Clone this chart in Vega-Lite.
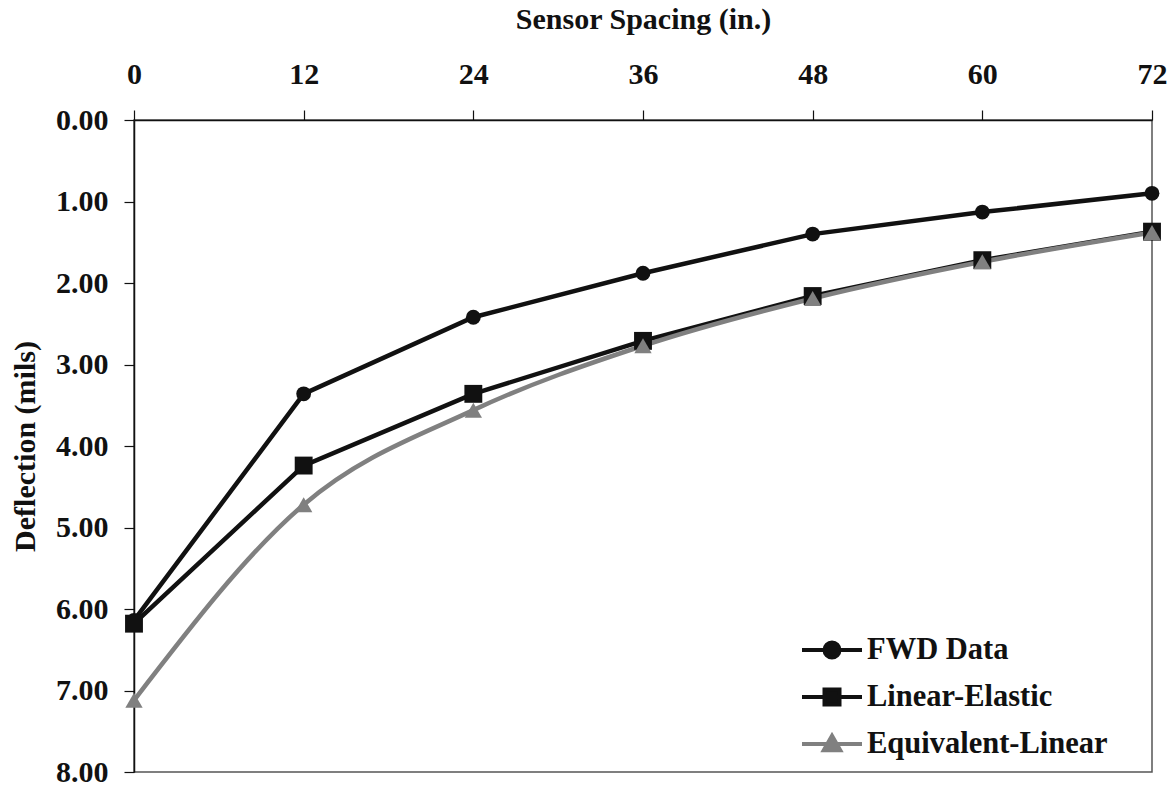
{
  "$schema": "https://vega.github.io/schema/vega-lite/v6.json",
  "autosize": {"type": "none"},
  "padding": {"left": 134, "top": 120, "right": 23, "bottom": 14},
  "width": 1018,
  "height": 652,
  "background": "white",
  "config": {
    "font": "Liberation Serif",
    "view": {"stroke": "#555", "strokeWidth": 1.5},
    "axis": {
      "labelFont": "Liberation Serif", "labelFontWeight": "bold", "labelFontSize": 30, "labelColor": "#111",
      "titleFont": "Liberation Serif", "titleFontWeight": "bold", "titleFontSize": 30, "titleColor": "#111",
      "domainColor": "#111", "domainWidth": 1.5, "tickColor": "#111", "tickWidth": 1.2, "tickSize": 10, "grid": false
    },
    "legend": {
      "labelFont": "Liberation Serif", "labelFontWeight": "bold", "labelFontSize": 30.5, "labelColor": "#111", "labelLimit": 600
    }
  },
  "data": {"values": [
    {"series": "FWD Data", "spacing": 0, "deflection": 6.14},
    {"series": "FWD Data", "spacing": 12, "deflection": 3.36},
    {"series": "FWD Data", "spacing": 24, "deflection": 2.42},
    {"series": "FWD Data", "spacing": 36, "deflection": 1.88},
    {"series": "FWD Data", "spacing": 48, "deflection": 1.40},
    {"series": "FWD Data", "spacing": 60, "deflection": 1.13},
    {"series": "FWD Data", "spacing": 72, "deflection": 0.90},
    {"series": "Linear-Elastic", "spacing": 0, "deflection": 6.18},
    {"series": "Linear-Elastic", "spacing": 12, "deflection": 4.24},
    {"series": "Linear-Elastic", "spacing": 24, "deflection": 3.36},
    {"series": "Linear-Elastic", "spacing": 36, "deflection": 2.71},
    {"series": "Linear-Elastic", "spacing": 48, "deflection": 2.16},
    {"series": "Linear-Elastic", "spacing": 60, "deflection": 1.72},
    {"series": "Linear-Elastic", "spacing": 72, "deflection": 1.37},
    {"series": "Equivalent-Linear", "spacing": 0, "deflection": 7.12},
    {"series": "Equivalent-Linear", "spacing": 12, "deflection": 4.72},
    {"series": "Equivalent-Linear", "spacing": 24, "deflection": 3.56},
    {"series": "Equivalent-Linear", "spacing": 36, "deflection": 2.77},
    {"series": "Equivalent-Linear", "spacing": 48, "deflection": 2.19},
    {"series": "Equivalent-Linear", "spacing": 60, "deflection": 1.74},
    {"series": "Equivalent-Linear", "spacing": 72, "deflection": 1.38}
  ]},
  "encoding": {
    "x": {
      "field": "spacing", "type": "quantitative",
      "scale": {"domain": [0, 72], "nice": false, "zero": false},
      "axis": {"orient": "top", "title": "Sensor Spacing (in.)", "values": [0, 12, 24, 36, 48, 60, 72], "labelPadding": 21, "titlePadding": 25, "labelFlush": false}
    },
    "y": {
      "field": "deflection", "type": "quantitative",
      "scale": {"domain": [0, 8], "reverse": true, "nice": false},
      "axis": {"title": "Deflection (mils)", "values": [0, 1, 2, 3, 4, 5, 6, 7, 8], "format": ".2f", "labelPadding": 16, "titlePadding": 15}
    },
    "color": {
      "field": "series", "type": "nominal",
      "scale": {"domain": ["FWD Data", "Linear-Elastic", "Equivalent-Linear"], "range": ["#111111", "#111111", "#808080"]},
      "legend": {
        "title": null, "orient": "none", "legendX": 681, "legendY": 513, "padding": 0,
        "symbolSize": 900, "symbolStrokeWidth": 4, "labelOffset": 18, "rowPadding": 14,
        "encode": {
          "symbols": {"update": {
            "shape": {"signal": "datum.value === 'FWD Data' ? 'M-2,0H2M-0.5,0A0.5,0.5 0 1,1 0.5,0A0.5,0.5 0 1,1 -0.5,0Z' : datum.value === 'Linear-Elastic' ? 'M-2,0H2M-0.5,-0.5H0.5V0.5H-0.5Z' : 'M-2,0H2M0,-0.55L0.55,0.42H-0.55Z'"},
            "fill": {"signal": "datum.value === 'Equivalent-Linear' ? '#808080' : '#111111'"},
            "stroke": {"signal": "datum.value === 'Equivalent-Linear' ? '#808080' : '#111111'"},
            "strokeWidth": {"value": 4},
            "opacity": {"value": 1}
          }}
        }
      }
    }
  },
  "layer": [
    {
      "transform": [{"filter": "datum.series !== 'Equivalent-Linear'"}],
      "mark": {"type": "line", "strokeWidth": 4.5}
    },
    {
      "transform": [{"filter": "datum.series === 'Equivalent-Linear'"}],
      "mark": {"type": "line", "strokeWidth": 4.5, "interpolate": "monotone"}
    },
    {
      "transform": [{"filter": "datum.series === 'FWD Data'"}],
      "mark": {"type": "point", "shape": "circle", "filled": true, "size": 220, "opacity": 1}
    },
    {
      "transform": [{"filter": "datum.series === 'Linear-Elastic'"}],
      "mark": {"type": "point", "shape": "square", "filled": true, "size": 320, "opacity": 1}
    },
    {
      "transform": [{"filter": "datum.series === 'Equivalent-Linear'"}],
      "mark": {"type": "point", "shape": "triangle-up", "filled": true, "size": 300, "opacity": 1}
    }
  ]
}
